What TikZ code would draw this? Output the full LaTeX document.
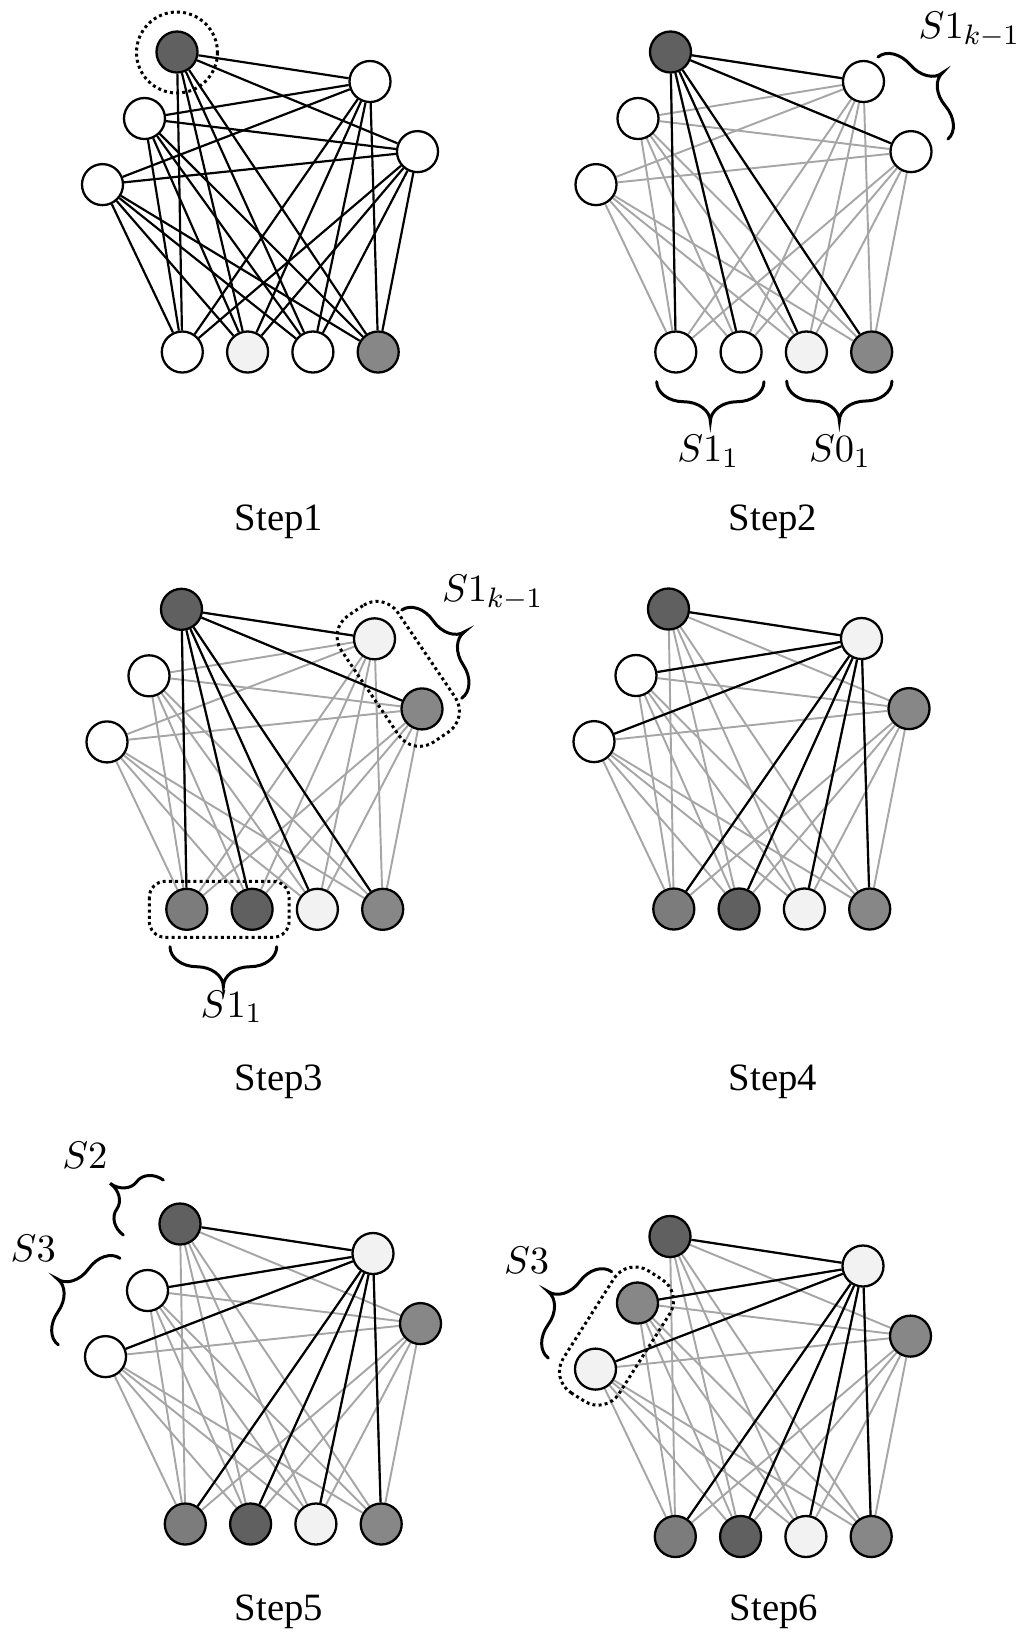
\documentclass[tikz,border=0pt]{standalone}
\usepackage{fontspec}
\setmainfont{Liberation Serif}
\DeclareMathSizes{10.5}{10.5}{8.2}{6.5}
\usetikzlibrary{calc,backgrounds}
\definecolor{cdark}{HTML}{606060}
\definecolor{cmid}{HTML}{7C7C7C}
\definecolor{cmidb}{HTML}{878787}
\definecolor{clight}{HTML}{F2F2F2}
\definecolor{cedge}{HTML}{A6A6A6}
\tikzset{
  vtx/.style={circle, draw=black, line width=0.65pt, minimum size=0.41cm, inner sep=0pt},
  hot/.style={black, line width=0.62pt},
  cold/.style={cedge, line width=0.55pt},
  ring/.style={line width=0.85pt, dash pattern=on 0.85pt off 0.9pt},
  bracestyle/.style={line width=0.85pt, line cap=round},
  steplabel/.style={font=\fontsize{11}{13}\selectfont, anchor=base, inner sep=0pt},
  setlabel/.style={font=\fontsize{10.5}{12}\selectfont, anchor=base west, inner sep=0pt},
}
\newcommand{\mkpanel}[9]{%
  \begin{scope}[shift={(#2,#3)}]
    \node[vtx, fill=#4] (#1a) at (0,0) {};
    \node[vtx, fill=#5] (#1b) at (-32.5,66.5) {};
    \node[vtx, fill=#6] (#1c) at (-74.5,132.6) {};
    \node[vtx, fill=#7] (#1d) at (193,29.5) {};
    \node[vtx, fill=#8] (#1e) at (240.5,99.6) {};
    \foreach \k/\f in {#9} {\node[vtx, fill=\f] (#1p\k) at ({5.3+65.3*(\k-1)},300) {};}
  \end{scope}}
\newcommand{\mkedges}[2]{%
  \foreach \u in {a,b,c}{\foreach \v in {d,e,p1,p2,p3,p4}{\draw[#2] (#1\u) -- (#1\v);}}%
  \foreach \u in {d,e}{\foreach \v in {p1,p2,p3,p4}{\draw[#2] (#1\u) -- (#1\v);}}}
\newcommand{\mkhub}[3]{\foreach \v in {#3}{\draw[hot] (#1#2) -- (#1\v);}}
\newcommand{\curlybrace}[5]{%
  \pgfmathsetmacro\bL{veclen((#3)-(#1),(#4)-(#2))}%
  \pgfmathsetmacro\bA{atan2(-((#4)-(#2)),(#3)-(#1))}%
  \begin{scope}[shift={(#1,#2)}, rotate=\bA]
    \draw[bracestyle] (0,0)
      .. controls (0,{0.276*(#5)}) and ({0.112*\bL},{0.5*(#5)}) .. ({0.25*\bL},{0.5*(#5)})
      .. controls ({0.388*\bL},{0.5*(#5)}) and ({0.5*\bL},{0.724*(#5)}) .. ({0.5*\bL},{#5})
      .. controls ({0.5*\bL},{0.724*(#5)}) and ({0.612*\bL},{0.5*(#5)}) .. ({0.75*\bL},{0.5*(#5)})
      .. controls ({0.888*\bL},{0.5*(#5)}) and (\bL,{0.276*(#5)}) .. (\bL,0);
  \end{scope}}
\begin{document}
\begin{tikzpicture}[x=0.01cm, y=-0.01cm]
\useasboundingbox (0,0) rectangle (1020,1632);

% ---------- nodes ----------
\mkpanel{s1}{177}{52}{cdark}{white}{white}{white}{white}{1/white,2/clight,3/white,4/cmidb}
\mkpanel{s2}{670.5}{52}{cdark}{white}{white}{white}{white}{1/white,2/white,3/clight,4/cmidb}
\mkpanel{s3}{181.5}{609.3}{cdark}{white}{white}{clight}{cmidb}{1/cmid,2/cdark,3/clight,4/cmidb}
\mkpanel{s4}{668.5}{609}{cdark}{white}{white}{clight}{cmidb}{1/cmid,2/cdark,3/clight,4/cmidb}
\mkpanel{s5}{180}{1224}{cdark}{white}{white}{clight}{cmidb}{1/cmid,2/cdark,3/clight,4/cmidb}
\mkpanel{s6}{670}{1236.5}{cdark}{cmidb}{clight}{clight}{cmidb}{1/cmid,2/cdark,3/clight,4/cmidb}

% ---------- edges ----------
\begin{pgfonlayer}{background}
  \mkedges{s1}{hot}
  \mkedges{s2}{cold}
  \mkhub{s2}{a}{d,e,p1,p2,p3,p4}
  \mkedges{s3}{cold}
  \mkhub{s3}{a}{d,e,p1,p2,p3,p4}
  \mkedges{s4}{cold}
  \mkhub{s4}{d}{a,b,c,p1,p2,p3,p4}
  \mkedges{s5}{cold}
  \mkhub{s5}{d}{a,b,c,p1,p2,p3,p4}
  \mkedges{s6}{cold}
  \mkhub{s6}{d}{a,b,c,p1,p2,p3,p4}
\end{pgfonlayer}

% ---------- dotted groupings ----------
\draw[ring] ($(s1a)+(0,0.5)$) circle[radius=40.5];
\begin{scope}[shift={(398.25,673.85)}, rotate=-55.88]
  \draw[ring, rounded corners=0.25cm] (-76.3,-34) rectangle (76.3,34);
\end{scope}
\draw[ring, rounded corners=0.16cm] ($(s3p1)+(-37.5,-28)$) rectangle ($(s3p2)+(37,28)$);
\begin{scope}[shift={(616.5,1336.05)}, rotate=57.57]
  \draw[ring, rounded corners=0.25cm] (-72.2,-33) rectangle (72.2,33);
\end{scope}

% ---------- braces ----------
\curlybrace{656.7}{381.7}{764}{381.7}{40}
\curlybrace{786.7}{381}{892}{381}{40}
\curlybrace{878}{57}{948}{139}{-39}
\curlybrace{401.7}{610}{461.7}{698.3}{-40}
\curlybrace{170}{946.7}{276.7}{946.7}{40}
\curlybrace{163.3}{1180}{123.3}{1235}{41}
\curlybrace{120}{1258.3}{58.3}{1345}{39}
\curlybrace{611.7}{1271.7}{548.3}{1358.3}{40}

% ---------- set labels ----------
\node[setlabel] (l21) at (676.7,461.7) {$S1_1$};
\node[setlabel] (l22) at (808.3,461.7) {$S0_1$};
\node[setlabel] (l23) at (918,38.3) {$S1_{k-1}$};
\node[setlabel] (l31) at (441.3,601.7) {$S1_{k-1}$};
\node[setlabel] (l32) at (200,1017) {$S1_1$};
\node[setlabel] (l51) at (61.7,1168.3) {$S2$};
\node[setlabel] (l52) at (10,1261.7) {$S3$};
\node[setlabel] (l61) at (503.3,1273.3) {$S3$};

% ---------- step labels ----------
\node[steplabel] (t1) at (279,530) {Step1};
\node[steplabel] (t2) at (773,530) {Step2};
\node[steplabel] (t3) at (279,1090) {Step3};
\node[steplabel] (t4) at (773,1090) {Step4};
\node[steplabel] (t5) at (279,1620) {Step5};
\node[steplabel] (t6) at (774,1620) {Step6};
\end{tikzpicture}
\end{document}
